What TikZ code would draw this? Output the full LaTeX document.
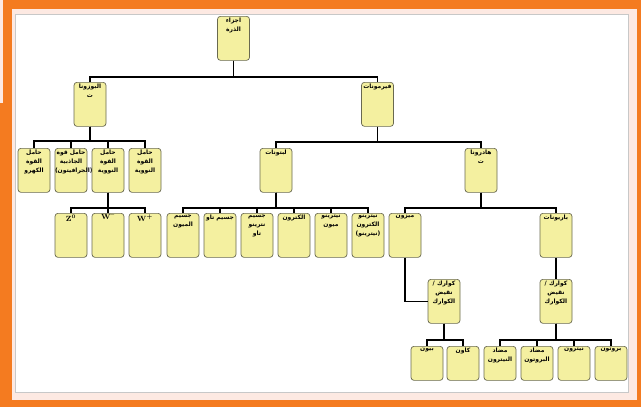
\documentclass[tikz,border=0pt]{standalone}
\usepackage{fontspec}
\newfontfamily\arabicfont[Script=Arabic]{DejaVu Sans}
\TeXXeTstate=1
\usetikzlibrary{positioning}
\definecolor{frameorange}{RGB}{244,123,32}
\definecolor{framepink}{RGB}{253,233,226}
\definecolor{framegray}{RGB}{200,200,200}
\definecolor{boxfill}{RGB}{244,240,160}
\definecolor{boxline}{RGB}{105,105,80}
\newcommand{\ar}[1]{\beginR #1\endR}
\newcommand{\cellt}[2][44pt]{\parbox[t][#1][t]{32pt}{\centering\vspace*{1.5pt}\fontsize{6}{9}\selectfont\arabicfont\bfseries #2}}
\newcommand{\latn}[1]{\fontsize{7.5}{8}\selectfont\rmfamily\bfseries #1}
\tikzset{
	cell/.style={draw=boxline,fill=boxfill,rounded corners=3pt,line width=0.7pt,inner sep=0pt,anchor=north},
	link/.style={line width=1.6pt,black},
}
\begin{document}
\begin{tikzpicture}[x=1pt,y=-1pt]
		\useasboundingbox (0,0) rectangle (641,407);
		% frame
		\fill[framepink] (0,0) rectangle (641,407);
		\fill[frameorange] (3,0) rectangle (641,9);
		\fill[frameorange] (3,0) rectangle (12,407);
		\fill[frameorange] (0,103) rectangle (12,407);
		\fill[frameorange] (12,400) rectangle (641,407);
		\fill[frameorange] (637,0) rectangle (641,407);
		\draw[framegray,fill=white,line width=1pt] (15,14) rectangle (628,392);
		
		% top levels
		\node[cell] (root) at (233.5,16) {\cellt{\ar{اجزاء}\\\ar{الذرة}}};
		\node[cell] (bos) at (90,82) {\cellt{\ar{البوزونا}\\\ar{ت}}};
		\node[cell] (fer) at (377.5,82) {\cellt{\ar{فيرمونات}}};
		
		% bosons
		\node[cell] (elec) at (34,148) {\cellt{\ar{حامل}\\\ar{القوة}\\\ar{الكهرو}}};
		\node[cell] (grav) at (71,148) {\cellt{\ar{حامل قوة}\\\ar{الجاذبية}\\\ar{(الجرافيتون)}}};
		\node[cell] (nuca) at (108,148) {\cellt{\ar{حامل}\\\ar{القوة}\\\ar{النووية}}};
		\node[cell] (nucb) at (145,148) {\cellt{\ar{حامل}\\\ar{القوة}\\\ar{النووية}}};
		\node[cell] (zz) at (71,213) {\cellt{\latn{Z\textsuperscript{0}}}};
		\node[cell] (wm) at (108,213) {\cellt{\latn{W\textsuperscript{--}}}};
		\node[cell] (wp) at (145,213) {\cellt{\latn{W\textsuperscript{+}}}};
		
		% fermions
		\node[cell] (lep) at (276,148) {\cellt{\ar{لبتونات}}};
		\node[cell] (had) at (481,148) {\cellt{\ar{هادرونا}\\\ar{ت}}};
		\node[cell] (muon) at (183,213) {\cellt{\ar{جسيم}\\\ar{الميون}}};
		\node[cell] (tau) at (220,213) {\cellt{\ar{جسيم تاو}}};
		\node[cell] (ntau) at (257,213) {\cellt{\ar{جسيم}\\\ar{نترينو}\\\ar{تاو}}};
		\node[cell] (elc) at (294,213) {\cellt{\ar{الكترون}}};
		\node[cell] (nmu) at (331,213) {\cellt{\ar{نيترينو}\\\ar{ميون}}};
		\node[cell] (nel) at (368,213) {\cellt{\ar{نيترينو}\\\ar{الكترون}\\\ar{(نيترينو)}}};
		\node[cell] (mes) at (405,213) {\cellt{\ar{ميزون}}};
		\node[cell] (bar) at (556,213) {\cellt{\ar{باريونات}}};
		
		% quarks
		\node[cell] (qka) at (444,279) {\cellt{\ar{كوارك /}\\\ar{نقيض}\\\ar{الكوارك}}};
		\node[cell] (qkb) at (556,279) {\cellt{\ar{كوارك /}\\\ar{نقيض}\\\ar{الكوارك}}};
		\node[cell] (pion) at (427,346) {\cellt[34pt]{\ar{بيون}}};
		\node[cell] (kaon) at (463,346) {\cellt[34pt]{\ar{كاون}}};
		\node[cell] (aneu) at (500,346) {\cellt[34pt]{\ar{مضاد}\\\ar{النيترون}}};
		\node[cell] (apro) at (537,346) {\cellt[34pt]{\ar{مضاد}\\\ar{البروتون}}};
		\node[cell] (neu) at (574,346) {\cellt[34pt]{\ar{نيترون}}};
		\node[cell] (pro) at (611,346) {\cellt[34pt]{\ar{بروتون}}};
		
		% connectors
		\foreach \c in {bos,fer} \draw[link] (root.south) -- ++(0,16) -| (\c.north);
		\foreach \c in {elec,grav,nuca,nucb} \draw[link] (bos.south) -- ++(0,14) -| (\c.north);
		\foreach \c in {zz,wm,wp} \draw[link] (nuca.south) -- ++(0,15) -| (\c.north);
		\foreach \c in {lep,had} \draw[link] (fer.south) -- ++(0,15) -| (\c.north);
		\foreach \c in {muon,tau,ntau,elc,nmu,nel} \draw[link] (lep.south) -- ++(0,15) -| (\c.north);
		\foreach \c in {mes,bar} \draw[link] (had.south) -- ++(0,15) -| (\c.north);
		\draw[link] (mes.south) |- (qka.west);
		\draw[link] (bar.south) -- (qkb.north);
		\foreach \c in {pion,kaon} \draw[link] (qka.south) -- ++(0,16) -| (\c.north);
		\foreach \c in {aneu,apro,neu,pro} \draw[link] (qkb.south) -- ++(0,16) -| (\c.north);
	\end{tikzpicture}
\end{document}
